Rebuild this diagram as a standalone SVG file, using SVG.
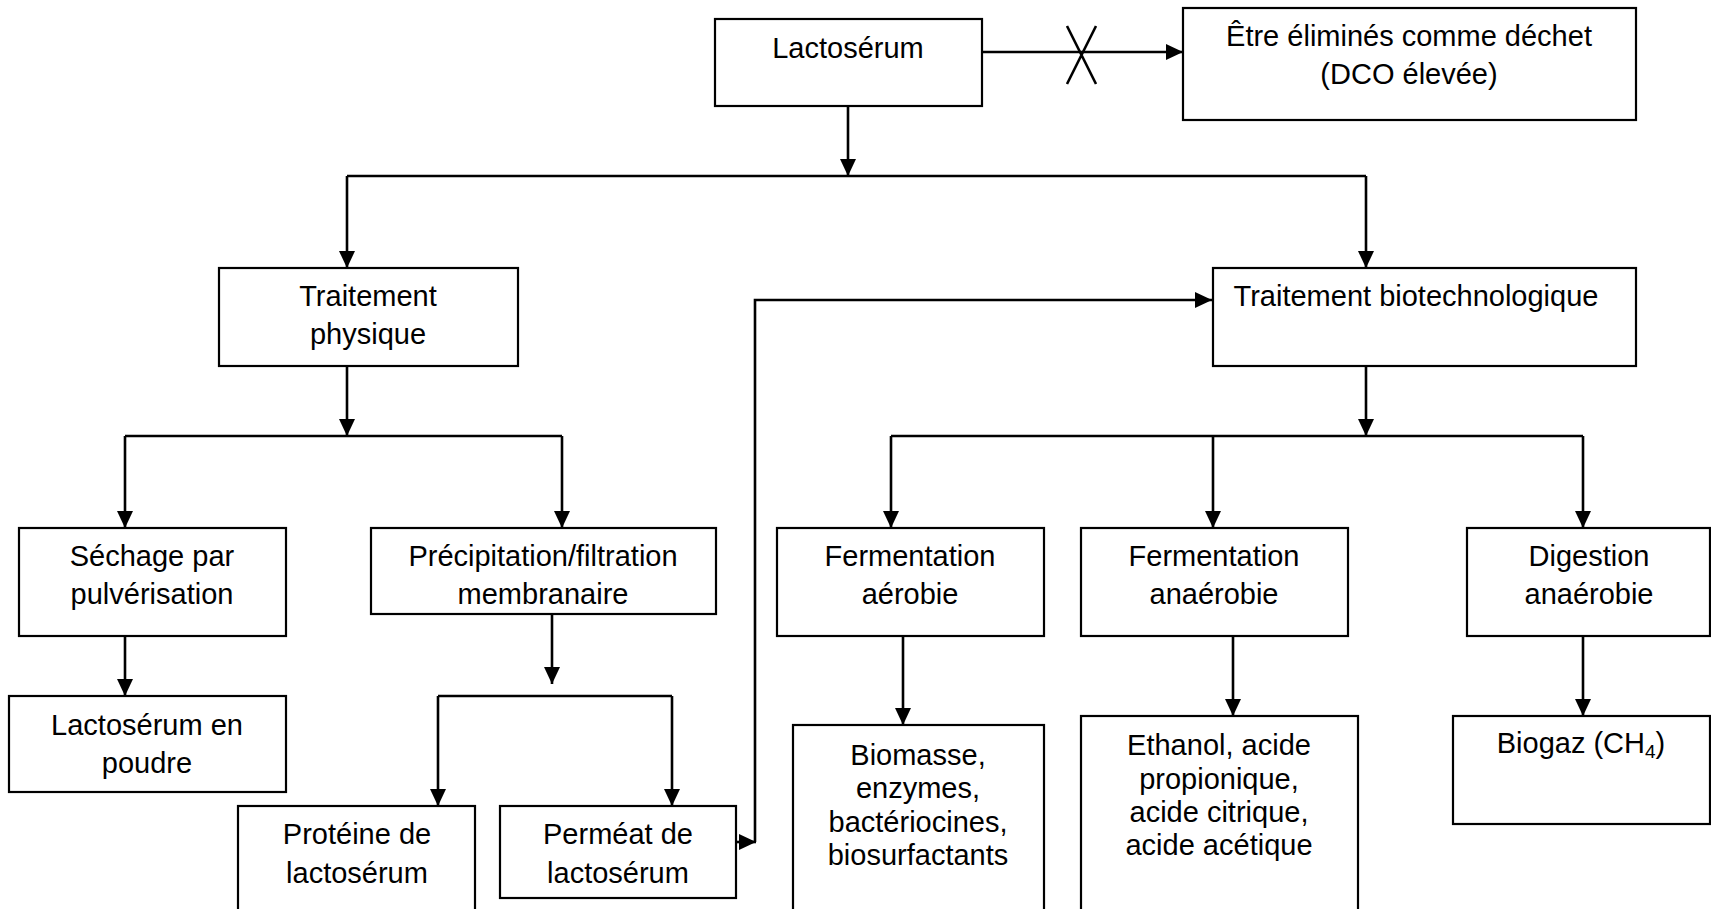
<svg xmlns="http://www.w3.org/2000/svg" width="1711" height="909" viewBox="0 0 1711 909">
  <style>
    .box { fill: #ffffff; stroke: #000000; stroke-width: 2.2; }
    .lbl { font-family: "Liberation Sans", Arial, sans-serif; font-size: 29px; fill: #000000; text-anchor: middle; }
    .wire { fill: none; stroke: #000000; stroke-width: 2.6; }
    .arrow { fill: none; stroke: #000000; stroke-width: 2.6; marker-end: url(#head); }
  </style>
  <defs>
    <marker id="head" markerUnits="userSpaceOnUse" markerWidth="17" markerHeight="16" refX="17" refY="8" orient="auto">
      <path d="M0,0 L17,8 L0,16 Z" fill="#000000"/>
    </marker>
  </defs>
  <rect width="1711" height="909" fill="#ffffff"/>

  <!-- connectors -->
  <g id="connectors">
    <!-- rejected route to waste -->
    <path class="arrow" d="M982,52 H1183"/>
    <path class="wire" stroke-width="3" d="M1067,26 L1096,84 M1096,26 L1067,84"/>
    <!-- Lactosérum split -->
    <path class="arrow" d="M848,106 V176"/>
    <path class="wire" d="M347,176 H1366"/>
    <path class="arrow" d="M347,176 V268"/>
    <path class="arrow" d="M1366,176 V268"/>
    <!-- physical treatment branches -->
    <path class="arrow" d="M347,366 V436"/>
    <path class="wire" d="M125,436 H562"/>
    <path class="arrow" d="M125,436 V528"/>
    <path class="arrow" d="M562,436 V528"/>
    <path class="arrow" d="M125,636 V696"/>
    <path class="arrow" d="M552,614 V684"/>
    <path class="wire" d="M438,696 H672"/>
    <path class="arrow" d="M438,696 V806"/>
    <path class="arrow" d="M672,696 V806"/>
    <!-- permeate back to biotechnological treatment -->
    <path class="arrow" d="M736,842 H756"/>
    <path class="arrow" d="M755,842 V300 H1212"/>
    <!-- biotechnological treatment branches -->
    <path class="arrow" d="M1366,366 V436"/>
    <path class="wire" d="M891,436 H1583"/>
    <path class="arrow" d="M891,436 V528"/>
    <path class="arrow" d="M1213,436 V528"/>
    <path class="arrow" d="M1583,436 V528"/>
    <path class="arrow" d="M903,636 V725"/>
    <path class="arrow" d="M1233,636 V716"/>
    <path class="arrow" d="M1583,636 V716"/>
  </g>

  <g id="lactoserum">
    <rect class="box" x="715" y="19" width="267" height="87"/>
    <text class="lbl" x="848" y="58">Lactosérum</text>
  </g>

  <g id="dechet">
    <rect class="box" x="1183" y="8" width="453" height="112"/>
    <text class="lbl" x="1409" y="46">Être éliminés comme déchet</text>
    <text class="lbl" x="1409" y="84">(DCO élevée)</text>
  </g>

  <g id="traitement-physique">
    <rect class="box" x="219" y="268" width="299" height="98"/>
    <text class="lbl" x="368" y="306">Traitement</text>
    <text class="lbl" x="368" y="344">physique</text>
  </g>

  <g id="traitement-biotechnologique">
    <rect class="box" x="1213" y="268" width="423" height="98"/>
    <text class="lbl" x="1416" y="306">Traitement biotechnologique</text>
  </g>

  <g id="sechage">
    <rect class="box" x="19" y="528" width="267" height="108"/>
    <text class="lbl" x="152" y="566">Séchage par</text>
    <text class="lbl" x="152" y="604">pulvérisation</text>
  </g>

  <g id="precipitation">
    <rect class="box" x="371" y="528" width="345" height="86"/>
    <text class="lbl" x="543" y="566">Précipitation/filtration</text>
    <text class="lbl" x="543" y="604">membranaire</text>
  </g>

  <g id="poudre">
    <rect class="box" x="9" y="696" width="277" height="96"/>
    <text class="lbl" x="147" y="735">Lactosérum en</text>
    <text class="lbl" x="147" y="773">poudre</text>
  </g>

  <g id="proteine">
    <rect class="box" x="238" y="806" width="237" height="130"/>
    <text class="lbl" x="357" y="844">Protéine de</text>
    <text class="lbl" x="357" y="883">lactosérum</text>
  </g>

  <g id="permeat">
    <rect class="box" x="500" y="806" width="236" height="92"/>
    <text class="lbl" x="618" y="844">Perméat de</text>
    <text class="lbl" x="618" y="883">lactosérum</text>
  </g>

  <g id="fermentation-aerobie">
    <rect class="box" x="777" y="528" width="267" height="108"/>
    <text class="lbl" x="910" y="566">Fermentation</text>
    <text class="lbl" x="910" y="604">aérobie</text>
  </g>

  <g id="fermentation-anaerobie">
    <rect class="box" x="1081" y="528" width="267" height="108"/>
    <text class="lbl" x="1214" y="566">Fermentation</text>
    <text class="lbl" x="1214" y="604">anaérobie</text>
  </g>

  <g id="digestion">
    <rect class="box" x="1467" y="528" width="243" height="108"/>
    <text class="lbl" x="1589" y="566">Digestion</text>
    <text class="lbl" x="1589" y="604">anaérobie</text>
  </g>

  <g id="biomasse">
    <rect class="box" x="793" y="725" width="251" height="210"/>
    <text class="lbl" x="918" y="765">Biomasse,</text>
    <text class="lbl" x="918" y="798">enzymes,</text>
    <text class="lbl" x="918" y="832">bactériocines,</text>
    <text class="lbl" x="918" y="865">biosurfactants</text>
  </g>

  <g id="ethanol">
    <rect class="box" x="1081" y="716" width="277" height="220"/>
    <text class="lbl" x="1219" y="755">Ethanol, acide</text>
    <text class="lbl" x="1219" y="789">propionique,</text>
    <text class="lbl" x="1219" y="822">acide citrique,</text>
    <text class="lbl" x="1219" y="855">acide acétique</text>
  </g>

  <g id="biogaz">
    <rect class="box" x="1453" y="716" width="257" height="108"/>
    <text class="lbl" x="1581" y="753">Biogaz (CH<tspan font-size="19" dy="5">4</tspan><tspan dy="-5">)</tspan></text>
  </g>
</svg>
